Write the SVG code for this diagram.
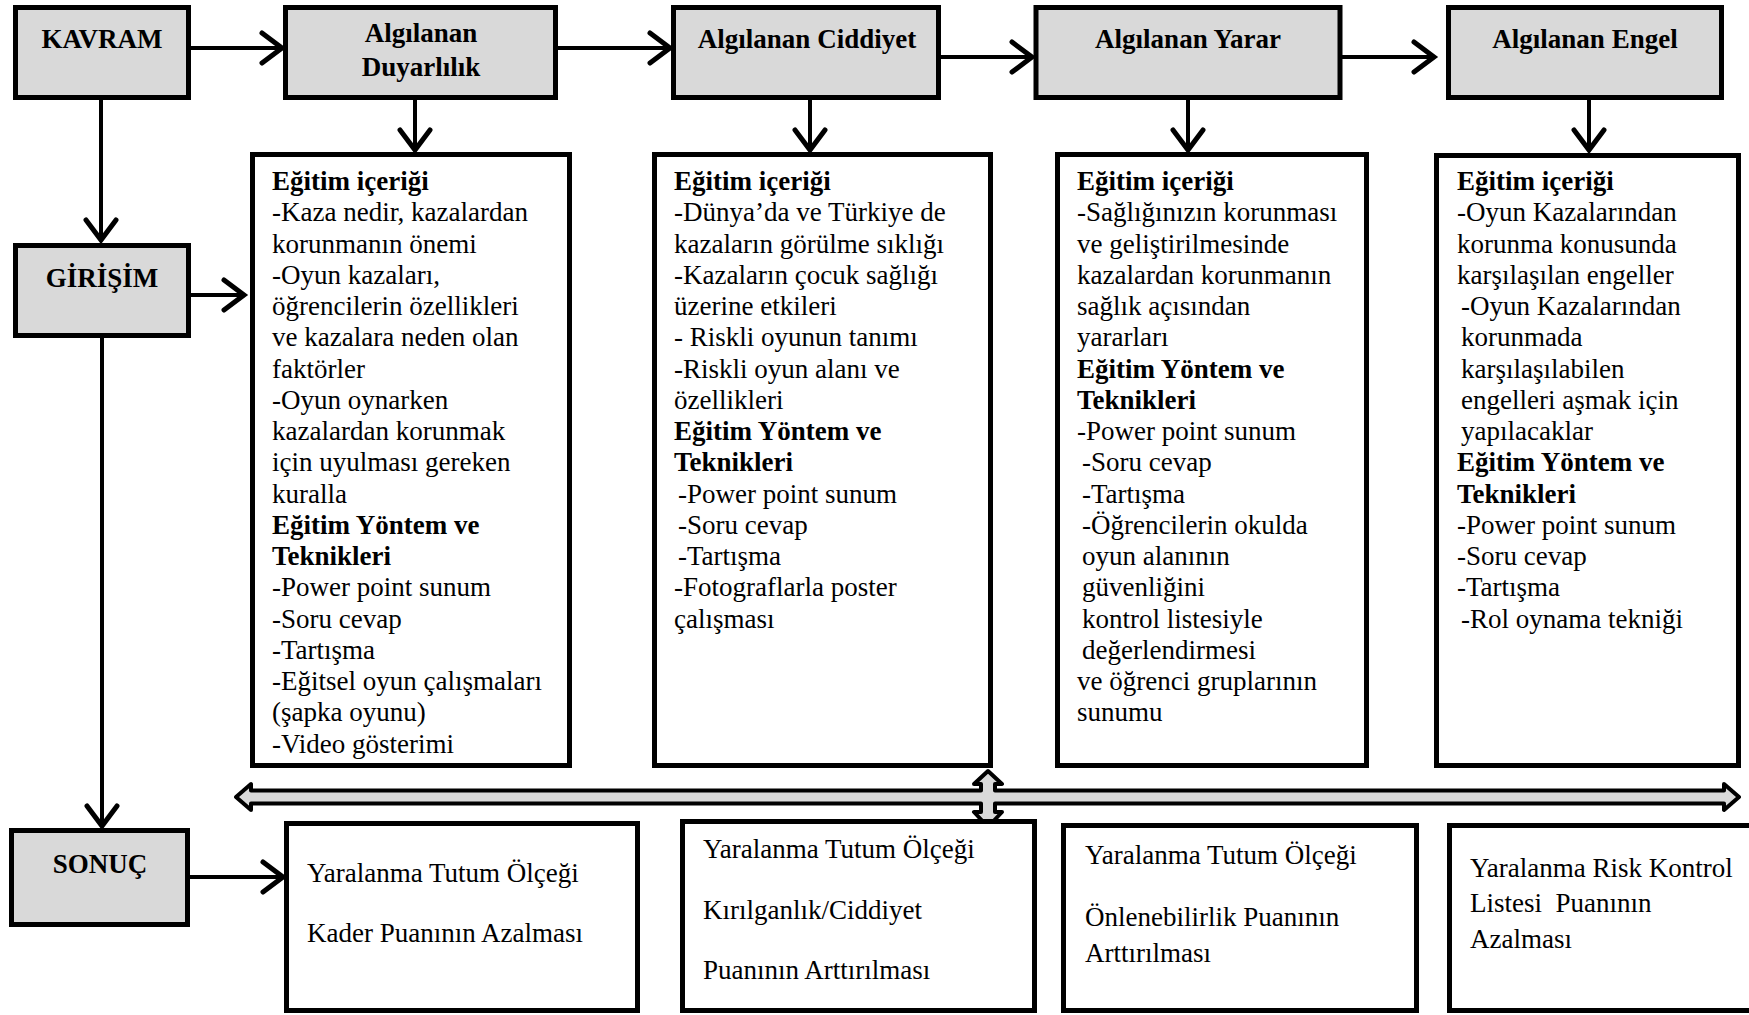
<svg xmlns="http://www.w3.org/2000/svg" width="1749" height="1015" viewBox="0 0 1749 1015">
<style>
.hdr{fill:#d9d9d9;stroke:#000;stroke-width:5}
.box{fill:#fff;stroke:#000;stroke-width:5}
.t{font-family:"Liberation Serif","Times New Roman",serif;font-size:27px;fill:#000}
.b{font-weight:bold}
.c{text-anchor:middle}
.conn{stroke:#000;stroke-width:4;fill:none}
.dbl{fill:#d9d9d9;stroke:#000;stroke-width:4;stroke-linejoin:round}
</style>
<defs>
<marker id="ah" markerUnits="userSpaceOnUse" markerWidth="40" markerHeight="40" viewBox="-20 -16 26 32" refX="0" refY="0" orient="auto">
<path d="M-16,-12 L0,0 L-16,12" fill="none" stroke="#000" stroke-width="4" stroke-linecap="round"/>
</marker>
</defs>
<rect width="1749" height="1015" fill="#fff"/>

<g id="connectors">
<line class="conn" x1="191" y1="48" x2="282" y2="48" marker-end="url(#ah)"/>
<line class="conn" x1="557" y1="48" x2="670" y2="48" marker-end="url(#ah)"/>
<line class="conn" x1="941" y1="57" x2="1032" y2="57" marker-end="url(#ah)"/>
<line class="conn" x1="1339" y1="57" x2="1434" y2="57" marker-end="url(#ah)"/>
<line class="conn" x1="415" y1="100" x2="415" y2="150" marker-end="url(#ah)"/>
<line class="conn" x1="810" y1="100" x2="810" y2="150" marker-end="url(#ah)"/>
<line class="conn" x1="1188" y1="100" x2="1188" y2="150" marker-end="url(#ah)"/>
<line class="conn" x1="1589" y1="100" x2="1589" y2="150" marker-end="url(#ah)"/>
<line class="conn" x1="101" y1="100" x2="101" y2="240" marker-end="url(#ah)"/>
<line class="conn" x1="191" y1="295" x2="244" y2="295" marker-end="url(#ah)"/>
<line class="conn" x1="102" y1="338" x2="102" y2="826" marker-end="url(#ah)"/>
<line class="conn" x1="190" y1="877" x2="283" y2="877" marker-end="url(#ah)"/>
<path class="dbl" d="M236,797 L251,784 L251,790.5 L981,790.5 L981,784 L974,784 L988,771 L1002,784 L995,784 L995,790.5 L1724,790.5 L1724,784 L1739,797 L1724,810 L1724,803.5 L995,803.5 L995,812 L1002,812 L988,827 L974,812 L981,812 L981,803.5 L251,803.5 L251,810 Z"/>
</g>

<g id="kavram">
<rect class="hdr" x="15.5" y="7.5" width="173" height="90"/>
<text class="t b c" x="102" y="48">KAVRAM</text>
</g>
<g id="duyarlilik">
<rect class="hdr" x="285.5" y="7.5" width="270" height="90"/>
<text class="t b c" x="421" y="42">Algılanan</text>
<text class="t b c" x="421" y="76">Duyarlılık</text>
</g>
<g id="ciddiyet">
<rect class="hdr" x="673.5" y="7.5" width="265" height="90"/>
<text class="t b c" x="807" y="48">Algılanan Ciddiyet</text>
</g>
<g id="yarar">
<rect class="hdr" x="1036" y="7.5" width="304" height="90"/>
<text class="t b c" x="1188" y="48">Algılanan Yarar</text>
</g>
<g id="engel">
<rect class="hdr" x="1448.5" y="7.5" width="273" height="90"/>
<text class="t b c" x="1585" y="48">Algılanan Engel</text>
</g>
<g id="girisim">
<rect class="hdr" x="15.5" y="245.5" width="173" height="90"/>
<text class="t b c" x="102" y="287">GİRİŞİM</text>
</g>
<g id="sonuc">
<rect class="hdr" x="11.5" y="830.5" width="176" height="94"/>
<text class="t b c" x="100" y="873">SONUÇ</text>
</g>

<g id="icerik1">
<rect class="box" x="252.5" y="154.5" width="317" height="611"/>
<text class="t">
<tspan class="b" x="272" y="190">Eğitim içeriği</tspan>
<tspan x="272" y="221.25">-Kaza nedir, kazalardan</tspan>
<tspan x="272" y="252.5">korunmanın önemi</tspan>
<tspan x="272" y="283.75">-Oyun kazaları,</tspan>
<tspan x="272" y="315">öğrencilerin özellikleri</tspan>
<tspan x="272" y="346.25">ve kazalara neden olan</tspan>
<tspan x="272" y="377.5">faktörler</tspan>
<tspan x="272" y="408.75">-Oyun oynarken</tspan>
<tspan x="272" y="440">kazalardan korunmak</tspan>
<tspan x="272" y="471.25">için uyulması gereken</tspan>
<tspan x="272" y="502.5">kuralla</tspan>
<tspan class="b" x="272" y="533.75">Eğitim Yöntem ve</tspan>
<tspan class="b" x="272" y="565">Teknikleri</tspan>
<tspan x="272" y="596.25">-Power point sunum</tspan>
<tspan x="272" y="627.5">-Soru cevap</tspan>
<tspan x="272" y="658.75">-Tartışma</tspan>
<tspan x="272" y="690">-Eğitsel oyun çalışmaları</tspan>
<tspan x="272" y="721.25">(şapka oyunu)</tspan>
<tspan x="272" y="752.5">-Video gösterimi</tspan>
</text>
</g>

<g id="icerik2">
<rect class="box" x="654.5" y="154.5" width="336" height="611"/>
<text class="t">
<tspan class="b" x="674" y="190">Eğitim içeriği</tspan>
<tspan x="674" y="221.25">-Dünya’da ve Türkiye de</tspan>
<tspan x="674" y="252.5">kazaların görülme sıklığı</tspan>
<tspan x="674" y="283.75">-Kazaların çocuk sağlığı</tspan>
<tspan x="674" y="315">üzerine etkileri</tspan>
<tspan x="674" y="346.25">- Riskli oyunun tanımı</tspan>
<tspan x="674" y="377.5">-Riskli oyun alanı ve</tspan>
<tspan x="674" y="408.75">özellikleri</tspan>
<tspan class="b" x="674" y="440">Eğitim Yöntem ve</tspan>
<tspan class="b" x="674" y="471.25">Teknikleri</tspan>
<tspan x="678" y="502.5">-Power point sunum</tspan>
<tspan x="678" y="533.75">-Soru cevap</tspan>
<tspan x="678" y="565">-Tartışma</tspan>
<tspan x="674" y="596.25">-Fotograflarla poster</tspan>
<tspan x="674" y="627.5">çalışması</tspan>
</text>
</g>

<g id="icerik3">
<rect class="box" x="1057.5" y="154.5" width="309" height="611"/>
<text class="t">
<tspan class="b" x="1077" y="190">Eğitim içeriği</tspan>
<tspan x="1077" y="221.25">-Sağlığınızın korunması</tspan>
<tspan x="1077" y="252.5">ve geliştirilmesinde</tspan>
<tspan x="1077" y="283.75">kazalardan korunmanın</tspan>
<tspan x="1077" y="315">sağlık açısından</tspan>
<tspan x="1077" y="346.25">yararları</tspan>
<tspan class="b" x="1077" y="377.5">Eğitim Yöntem ve</tspan>
<tspan class="b" x="1077" y="408.75">Teknikleri</tspan>
<tspan x="1077" y="440">-Power point sunum</tspan>
<tspan x="1082" y="471.25">-Soru cevap</tspan>
<tspan x="1082" y="502.5">-Tartışma</tspan>
<tspan x="1082" y="533.75">-Öğrencilerin okulda</tspan>
<tspan x="1082" y="565">oyun alanının</tspan>
<tspan x="1082" y="596.25">güvenliğini</tspan>
<tspan x="1082" y="627.5">kontrol listesiyle</tspan>
<tspan x="1082" y="658.75">değerlendirmesi</tspan>
<tspan x="1077" y="690">ve öğrenci gruplarının</tspan>
<tspan x="1077" y="721.25">sunumu</tspan>
</text>
</g>

<g id="icerik4">
<rect class="box" x="1436.5" y="155.5" width="302" height="610"/>
<text class="t">
<tspan class="b" x="1457" y="190">Eğitim içeriği</tspan>
<tspan x="1457" y="221.25">-Oyun Kazalarından</tspan>
<tspan x="1457" y="252.5">korunma konusunda</tspan>
<tspan x="1457" y="283.75">karşılaşılan engeller</tspan>
<tspan x="1461" y="315">-Oyun Kazalarından</tspan>
<tspan x="1461" y="346.25">korunmada</tspan>
<tspan x="1461" y="377.5">karşılaşılabilen</tspan>
<tspan x="1461" y="408.75">engelleri aşmak için</tspan>
<tspan x="1461" y="440">yapılacaklar</tspan>
<tspan class="b" x="1457" y="471.25">Eğitim Yöntem ve</tspan>
<tspan class="b" x="1457" y="502.5">Teknikleri</tspan>
<tspan x="1457" y="533.75">-Power point sunum</tspan>
<tspan x="1457" y="565">-Soru cevap</tspan>
<tspan x="1457" y="596.25">-Tartışma</tspan>
<tspan x="1461" y="627.5">-Rol oynama tekniği</tspan>
</text>
</g>

<g id="sonuc1">
<rect class="box" x="286.5" y="823.5" width="351" height="187"/>
<text class="t" x="307" y="882">Yaralanma Tutum Ölçeği</text>
<text class="t" x="307" y="942">Kader Puanının Azalması</text>
</g>
<g id="sonuc2">
<rect class="box" x="682.5" y="821.5" width="352" height="189"/>
<text class="t" x="703" y="858">Yaralanma Tutum Ölçeği</text>
<text class="t" x="703" y="919">Kırılganlık/Ciddiyet</text>
<text class="t" x="703" y="979">Puanının Arttırılması</text>
</g>
<g id="sonuc3">
<rect class="box" x="1063.5" y="825.5" width="353" height="185"/>
<text class="t" x="1085" y="864">Yaralanma Tutum Ölçeği</text>
<text class="t" x="1085" y="926">Önlenebilirlik Puanının</text>
<text class="t" x="1085" y="962">Arttırılması</text>
</g>
<g id="sonuc4">
<rect class="box" x="1449.5" y="825.5" width="322" height="185"/>
<text class="t" x="1470" y="877">Yaralanma Risk Kontrol</text>
<text class="t" x="1470" y="912" xml:space="preserve">Listesi  Puanının</text>
<text class="t" x="1470" y="948">Azalması</text>
</g>
</svg>
